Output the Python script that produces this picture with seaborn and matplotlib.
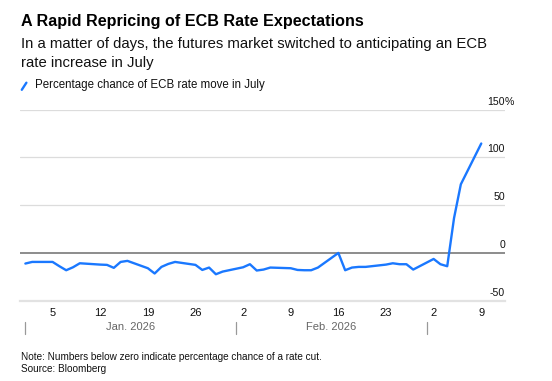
import matplotlib
matplotlib.use("Agg")
import matplotlib.pyplot as plt
import matplotlib.dates as mdates
from matplotlib.transforms import blended_transform_factory, offset_copy
from matplotlib.lines import Line2D
import seaborn as sns
import pandas as pd

# ---------------- data ----------------
dates = [
    "2026-01-01", "2026-01-02", "2026-01-05", "2026-01-06", "2026-01-07", "2026-01-08", "2026-01-09",
    "2026-01-12", "2026-01-13", "2026-01-14", "2026-01-15", "2026-01-16",
    "2026-01-19", "2026-01-20", "2026-01-21", "2026-01-22", "2026-01-23",
    "2026-01-26", "2026-01-27", "2026-01-28", "2026-01-29", "2026-01-30",
    "2026-02-02", "2026-02-03", "2026-02-04", "2026-02-05", "2026-02-06",
    "2026-02-09", "2026-02-10", "2026-02-11", "2026-02-12", "2026-02-13",
    "2026-02-16", "2026-02-17", "2026-02-18", "2026-02-19", "2026-02-20",
    "2026-02-23", "2026-02-24", "2026-02-25", "2026-02-26", "2026-02-27",
    "2026-03-02", "2026-03-03", "2026-03-04", "2026-03-05", "2026-03-06",
    "2026-03-09",
]
values = [
    -11.1, -9.4, -9.4, -13.9, -18.1, -15.0, -10.8,
    -12.2, -12.5, -15.6, -9.4, -8.3,
    -16.0, -21.5, -14.6, -11.5, -9.4,
    -12.5, -17.8, -15.3, -22.3, -19.5,
    -15.0, -11.8, -18.4, -17.4, -15.3,
    -16.0, -17.8, -18.1, -18.1, -15.3,
    0.0, -18.1, -15.3, -14.6, -14.6,
    -12.2, -10.8, -11.8, -11.8, -17.4,
    -6.3, -11.8, -13.9, 36.5, 71.9,
    114.6,
]
x_tick_dates = ["2026-01-05", "2026-01-12", "2026-01-19", "2026-01-26", "2026-02-02",
                "2026-02-09", "2026-02-16", "2026-02-23", "2026-03-02", "2026-03-09"]
x_tick_labels = ["5", "12", "19", "26", "2", "9", "16", "23", "2", "9"]
month_starts = ["2026-01-01", "2026-02-01", "2026-03-01"]
month_labels = ["Jan. 2026", "Feb. 2026"]
y_ticks = [-50, 0, 50, 100, 150]
y_tick_labels = ["-50", "0", "50", "100", "150"]

title = "A Rapid Repricing of ECB Rate Expectations"
subtitle_lines = ["In a matter of days, the futures market switched to anticipating an ECB",
                  "rate increase in July"]
legend_label = "Percentage chance of ECB rate move in July"
note = "Note: Numbers below zero indicate percentage chance of a rate cut."
source = "Source: Bloomberg"

# ---------------- style ----------------
sns.set_style("white")
plt.rcParams["font.family"] = ["Liberation Sans", "DejaVu Sans"]

LINE = "#1a78ff"
W, H = 552, 381

df = pd.DataFrame({"date": pd.to_datetime(dates), "value": values})

fig = plt.figure(figsize=(W / 100, H / 100), dpi=100)
fig.patch.set_facecolor("white")

ax_left, ax_right = 20.4, 505.0
ax_top, ax_bottom = 109.7, 300.7
ax = fig.add_axes([ax_left / W, 1 - ax_bottom / H, (ax_right - ax_left) / W, (ax_bottom - ax_top) / H])

# grid lines
for v in y_ticks[2:]:
    ax.axhline(v, color="#dcdcdc", lw=0.9, zorder=0)
ax.axhline(0, color="#6e6e6e", lw=1.1, zorder=1)

sns.lineplot(data=df, x="date", y="value", ax=ax, color=LINE, lw=1.7, zorder=3, legend=False)

start = pd.Timestamp("2026-01-01")
end = pd.Timestamp("2026-03-09")
ax.set_xlim(mdates.date2num(start) - 0.73, mdates.date2num(end) + 3.49)
ax.set_ylim(-50, 150)

for s in ["top", "left", "right"]:
    ax.spines[s].set_visible(False)
ax.spines["bottom"].set_color("#e2e2e2")
ax.spines["bottom"].set_linewidth(1.6)

ax.set_yticks([])
ax.set_xlabel("")
ax.set_ylabel("")

# x ticks
ax.set_xticks(pd.to_datetime(x_tick_dates))
ax.set_xticklabels(x_tick_labels)
ax.set_xticks(pd.to_datetime(month_starts), minor=True)
ax.tick_params(axis="x", which="major", length=4, width=0.9, color="#555555",
               labelsize=8, labelcolor="#111111", pad=1.5)
ax.tick_params(axis="x", which="minor", length=4, width=0.9, color="#888888")

# month separators (second row) and month labels
btr = blended_transform_factory(ax.transData, ax.transAxes)
h = ax_bottom - ax_top
for d in month_starts:
    xd = mdates.date2num(pd.Timestamp(d))
    ax.plot([xd, xd], [-(322 - ax_bottom) / h, -(334 - ax_bottom) / h], transform=btr,
            color="#999999", lw=0.9, clip_on=False)
for i, lab in enumerate(month_labels):
    a = mdates.date2num(pd.Timestamp(month_starts[i]))
    b = mdates.date2num(pd.Timestamp(month_starts[i + 1]))
    ax.text((a + b) / 2, -(326.7 - ax_bottom) / h, lab, transform=btr, ha="center", va="center",
            fontsize=8, color="#666666")

# y labels above grid lines at right
ytr = blended_transform_factory(ax.transAxes, ax.transData)
ytr_off = offset_copy(ytr, fig=fig, x=0, y=3.6, units="points")
for v, lab in zip(y_ticks, y_tick_labels):
    ax.text(1.0, v, lab, transform=ytr_off, ha="right", va="baseline", fontsize=7.6, color="#111111")
    if v == y_ticks[-1]:
        ax.text(1.0, v, "%", transform=ytr_off, ha="left", va="baseline", fontsize=7.6, color="#111111")

# titles
fig.text(21 / W, 1 - 26.4 / H, title, fontsize=11.6, fontweight="bold", color="#000000", va="baseline")
fig.text(21 / W, 1 - 48.2 / H, subtitle_lines[0], fontsize=10.7, color="#111111", va="baseline")
fig.text(21 / W, 1 - 67.0 / H, subtitle_lines[1], fontsize=10.7, color="#111111", va="baseline")
# legend
fig.add_artist(Line2D([21.8 / W, 26.4 / W], [1 - 89.8 / H, 1 - 82.7 / H], color=LINE, lw=1.7,
                      transform=fig.transFigure))
fig.text(35 / W, 1 - 88 / H, legend_label, fontsize=8.3, color="#111111", va="baseline")
# footer
fig.text(21 / W, 1 - 360 / H, note, fontsize=7.2, color="#111111", va="baseline")
fig.text(21 / W, 1 - 372 / H, source, fontsize=7.2, color="#111111", va="baseline")

fig.savefig("out.png", dpi=100)
